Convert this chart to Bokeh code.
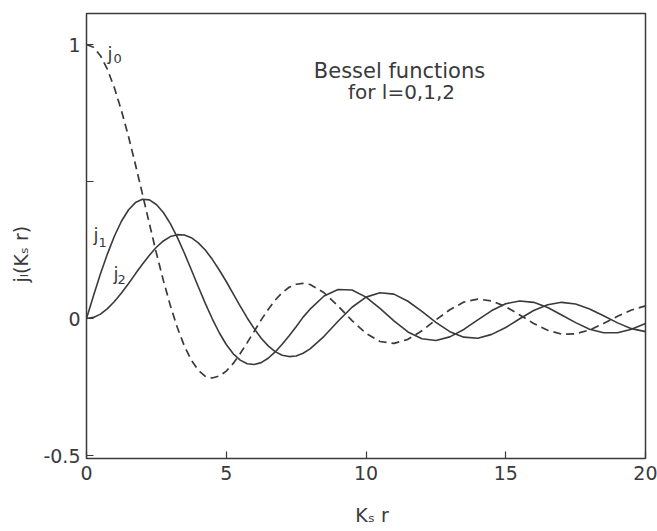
import math
from bokeh.plotting import figure
from bokeh.models import Label, FixedTicker, Range1d, CustomJSTickFormatter
from bokeh.embed import file_html
from bokeh.resources import INLINE

# ---- data (spherical Bessel functions j0, j1, j2) ----
x_vals = [0, 0.25, 0.5, 0.75, 1, 1.25, 1.5, 1.75, 2, 2.25, 2.5, 2.75, 3, 3.25, 3.5, 3.75,
          4, 4.25, 4.5, 4.75, 5, 5.25, 5.5, 5.75, 6, 6.25, 6.5, 6.75, 7, 7.25, 7.5, 7.75, 8,
          8.5, 9, 9.5, 10, 10.5, 11, 11.5, 12, 12.5, 13, 13.5, 14, 14.5, 15, 15.5, 16,
          16.5, 17, 17.5, 18, 18.5, 19, 19.5, 20]
j0_vals = [1.0, 0.990, 0.959, 0.909, 0.841, 0.759, 0.665, 0.562, 0.455, 0.346, 0.239, 0.139,
           0.047, -0.033, -0.100, -0.152, -0.189, -0.211, -0.217, -0.210, -0.192, -0.164,
           -0.128, -0.088, -0.047, -0.005, 0.033, 0.067, 0.094, 0.114, 0.125, 0.128, 0.124,
           0.094, 0.046, -0.008, -0.054, -0.084, -0.091, -0.076, -0.045, -0.005, 0.032,
           0.060, 0.071, 0.064, 0.043, 0.013, -0.018, -0.043, -0.057, -0.056, -0.042,
           -0.018, 0.008, 0.031, 0.046]
j1_vals = [0.0, 0.083, 0.163, 0.236, 0.301, 0.355, 0.396, 0.423, 0.435, 0.433, 0.416, 0.387,
           0.346, 0.296, 0.239, 0.178, 0.116, 0.055, -0.001, -0.052, -0.095, -0.129, -0.152,
           -0.165, -0.168, -0.161, -0.145, -0.122, -0.094, -0.063, -0.030, 0.005, 0.034,
           0.082, 0.106, 0.104, 0.078, 0.037, -0.009, -0.049, -0.074, -0.080, -0.067,
           -0.040, -0.005, 0.029, 0.054, 0.064, 0.059, 0.040, 0.013, -0.015, -0.039,
           -0.052, -0.052, -0.039, -0.018]
j2_vals = [0.0, 0.004, 0.016, 0.036, 0.062, 0.093, 0.127, 0.163, 0.198, 0.231, 0.260, 0.283,
           0.299, 0.306, 0.305, 0.295, 0.276, 0.250, 0.216, 0.177, 0.135, 0.090, 0.045,
           0.002, -0.037, -0.072, -0.100, -0.121, -0.134, -0.139, -0.137, -0.127, -0.111,
           -0.065, -0.010, 0.041, 0.078, 0.094, 0.089, 0.063, 0.026, -0.014, -0.048,
           -0.068, -0.072, -0.058, -0.033, -0.001, 0.029, 0.050, 0.059, 0.053, 0.035,
           0.010, -0.016, -0.037, -0.048]
x_ticks = [0, 5, 10, 15, 20]
y_ticks = [-0.5, 0, 0.5, 1]

INK = "#3a3a3a"
FONT = "DejaVu Sans"
NB = "\u00a0"

# frame geometry (pixels) used only to place annotations
FL, FR, FT, FB = 86, 645, 13, 458
Y0PX, YPERU = 318, 274.0
XPERU = (FR - FL) / 20.0

p = figure(width=657, height=531, output_backend="svg", toolbar_location=None,
           x_range=Range1d(0, 20),
           y_range=Range1d(-(FB - Y0PX) / YPERU, (Y0PX - FT) / YPERU),
           min_border_left=FL, min_border_right=657 - FR,
           min_border_top=FT, min_border_bottom=531 - FB)
p.grid.visible = False
p.background_fill_color = "white"
p.border_fill_color = "white"
p.outline_line_color = INK
p.outline_line_width = 1.5

p.line(x_vals, j0_vals, line_color=INK, line_width=1.7, line_dash="8 5")
p.line(x_vals, j1_vals, line_color=INK, line_width=1.6)
p.line(x_vals, j2_vals, line_color=INK, line_width=1.6)

for ax in (p.xaxis[0], p.yaxis[0]):
    ax.axis_line_color = None
    ax.major_tick_in = 7
    ax.major_tick_out = 0
    ax.major_tick_line_color = INK
    ax.major_tick_line_width = 1.2
    ax.minor_tick_line_color = None
    ax.major_label_text_font = FONT
    ax.major_label_text_font_size = "19px"
    ax.major_label_text_color = INK
    ax.axis_label_text_font = FONT
    ax.axis_label_text_font_size = "19px"
    ax.axis_label_text_font_style = "normal"
    ax.axis_label_text_color = INK

p.xaxis.ticker = FixedTicker(ticks=x_ticks)
p.xaxis.major_label_standoff = 7
p.xaxis.axis_label = NB + NB + "K\u209b r"
p.xaxis.axis_label_standoff = 21

p.yaxis.ticker = FixedTicker(ticks=y_ticks)
p.yaxis.major_label_standoff = 6
p.yaxis.formatter = CustomJSTickFormatter(
    code="if (Math.abs(tick - 0.5) < 1e-9) return ''; if (tick < 0) return '-0.5'; return tick.toFixed(0);")
p.yaxis.axis_label = "j\u2097(K\u209b r)" + NB * 6
p.yaxis.axis_label_standoff = 8


def lab(text, px, py, size="18px", angle=0.0, align="left"):
    p.add_layout(Label(x=(px - FL) / XPERU, y=(Y0PX - py) / YPERU, text=text,
                       text_font=FONT, text_font_size=size, text_color=INK,
                       angle=angle, text_align=align, text_baseline="alphabetic"))


# title block
lab("Bessel functions", 399, 70, size="21px", align="center")
lab("for l=0,1,2", 401, 91, size="20px", align="center")

# curve labels
lab("j", 107, 53)
lab("0", 113, 58, size="13px")
lab("j", 93, 234)
lab("1", 98, 242, size="13px")
lab("j", 113, 273)
lab("2", 117, 279, size="13px")

open("out.html", "w").write(file_html(p, INLINE))
